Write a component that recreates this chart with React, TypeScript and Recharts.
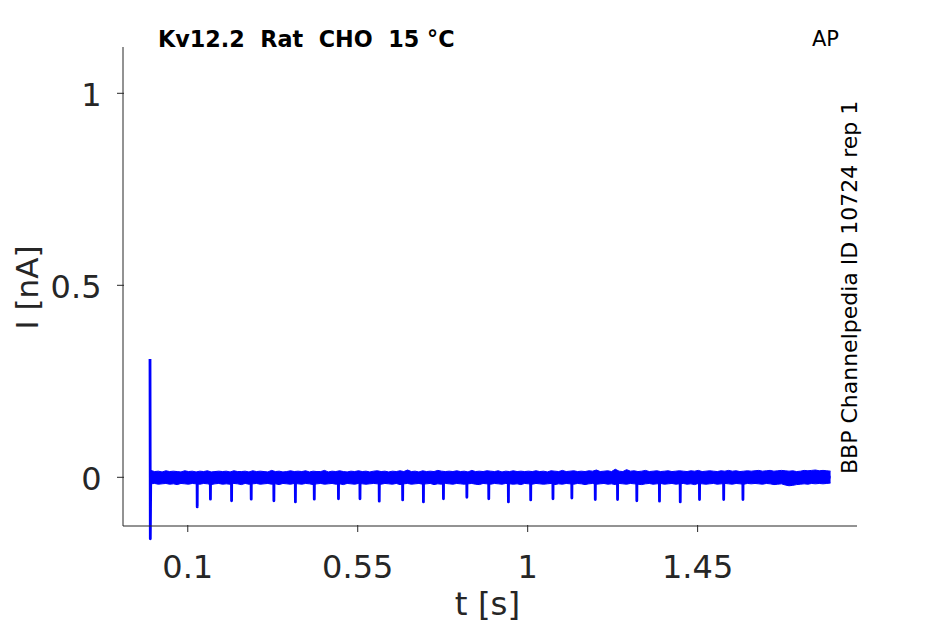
import React from 'react';
import { ComposedChart, Area, Line, XAxis, YAxis } from 'recharts';

// noise envelope of the baseline, every 10 ms from t = 0.002 s (pA)
const bandStart = 0.002;
const bandStep = 0.01;
const bandUpperPA = [
  18, 15, 16, 14, 17, 15, 16, 15, 14, 17, 15, 16, 14, 16, 15, 17, 14, 15, 16, 15,
  16, 14, 17, 15, 15, 16, 14, 17, 15, 16, 15, 14, 18, 15, 16, 14, 15, 17, 15, 16,
  15, 17, 14, 16, 15, 15, 18, 14, 16, 15, 17, 15, 14, 16, 15, 17, 15, 16, 14, 16,
  17, 15, 16, 14, 16, 15, 17, 15, 19, 15, 16, 14, 17, 15, 16, 15, 18, 16, 15, 16,
  15, 17, 15, 16, 14, 18, 15, 16, 15, 17, 16, 15, 17, 14, 16, 15, 17, 15, 16, 15,
  16, 15, 17, 15, 16, 14, 17, 16, 15, 18, 15, 16, 17, 15, 16, 15, 17, 16, 19, 15,
  16, 17, 15, 21, 16, 15, 20, 16, 17, 15, 16, 18, 15, 16, 17, 15, 16, 17, 15, 16,
  17, 16, 15, 17, 16, 18, 15, 16, 17, 16, 15, 17, 16, 18, 16, 17, 15, 16, 17, 16,
  17, 18, 16, 17, 18, 16, 17, 18, 17, 16, 17, 15, 16, 18, 17, 18, 19, 17, 18, 17,
  16,
];
const bandLowerPA = [
  -17, -16, -18, -17, -16, -18, -17, -19, -16, -17, -18, -16, -17, -18, -16, -17, -19, -17, -16, -18,
  -17, -18, -16, -17, -19, -16, -18, -17, -16, -18, -17, -16, -18, -17, -19, -16, -17, -18, -16, -17,
  -18, -16, -17, -19, -17, -16, -18, -17, -16, -18, -17, -19, -16, -17, -18, -16, -17, -18, -17, -16,
  -17, -18, -16, -17, -18, -16, -19, -17, -16, -18, -17, -16, -18, -17, -16, -19, -17, -18, -16, -17,
  -18, -16, -17, -18, -17, -16, -18, -19, -16, -17, -18, -16, -17, -18, -16, -17, -18, -17, -19, -16,
  -17, -18, -16, -17, -18, -17, -16, -19, -17, -18, -16, -17, -18, -16, -17, -19, -17, -16, -18, -17,
  -16, -18, -17, -19, -16, -17, -18, -16, -17, -18, -19, -17, -16, -18, -17, -16, -18, -17, -16, -18,
  -17, -16, -18, -17, -19, -16, -17, -18, -17, -16, -18, -17, -16, -17, -18, -16, -17, -18, -16, -17,
  -16, -17, -18, -16, -17, -19, -18, -17, -20, -22, -21, -19, -18, -17, -18, -16, -17, -16, -17, -16,
  -15,
];

// capacitive transient at stimulus onset (nA)
const onsetTimes = [0, 0.0008];
const onsetCurrent = [0.308, -0.16];

// inward deflections during the AP train (nA); each lasts about 1 ms
const spikeTimes = [
  0.125, 0.16, 0.216, 0.268, 0.328, 0.385, 0.435, 0.499, 0.556, 0.607,
  0.669, 0.724, 0.777, 0.839, 0.897, 0.949, 1.008, 1.067, 1.117, 1.179,
  1.238, 1.289, 1.349, 1.404, 1.455, 1.519, 1.57,
];
const spikeCurrent = [
  -0.077, -0.057, -0.061, -0.057, -0.061, -0.064, -0.057, -0.056, -0.056, -0.062,
  -0.059, -0.064, -0.056, -0.052, -0.056, -0.064, -0.059, -0.056, -0.054, -0.058,
  -0.058, -0.061, -0.062, -0.064, -0.058, -0.058, -0.058,
];
const spikeHalfWidth = 0.0004;
const baselineCurrent = 0;

const xTicks = [0.1, 0.55, 1, 1.45];
const yTicks = [0, 0.5, 1];

type Row = { t: number; current: number; band?: [number, number] };

const traceData: Row[] = [
  ...onsetTimes.map((t, i) => ({ t, current: onsetCurrent[i] })),
  ...bandUpperPA.map((hi, i) => {
    const lo = bandLowerPA[i];
    return {
      t: bandStart + bandStep * i,
      current: (hi + lo) / 2000,
      band: [lo / 1000, hi / 1000] as [number, number],
    };
  }),
  ...spikeTimes.flatMap((t, i) => [
    { t: t - spikeHalfWidth, current: baselineCurrent },
    { t, current: spikeCurrent[i] },
    { t: t + spikeHalfWidth, current: baselineCurrent },
  ]),
].sort((a, b) => a.t - b.t);

const FONT = '"DejaVu Sans", sans-serif';
const INK = '#262626';
const BLUE = '#0000ff';

const fmt = (v: number) => String(v);

const XTick = (props: any) => {
  const { x, y, payload } = props;
  return (
    <g>
      <line x1={x} x2={x} y1={y} y2={y - 7} stroke={INK} strokeWidth={1} />
      <text x={x} y={y + 46} textAnchor="middle" fontSize={32} fontFamily={FONT} fill={INK}>
        {fmt(payload.value)}
      </text>
    </g>
  );
};

const YTick = (props: any) => {
  const { x, y, payload } = props;
  return (
    <g>
      <line x1={x} x2={x + 7} y1={y} y2={y} stroke={INK} strokeWidth={1} />
      <text x={x - 15.5} y={y + 12.4} textAnchor="end" fontSize={32} fontFamily={FONT} fill={INK}>
        {fmt(payload.value)}
      </text>
    </g>
  );
};

const App: React.FC = () => {
  return (
    <div style={{ position: 'relative', width: 945, height: 624, background: '#fff' }}>
      <style>{'body{margin:0}.recharts-line,.recharts-line *{clip-path:none !important}'}</style>
      <ComposedChart width={945} height={624} data={traceData} margin={{ top: 47, right: 88, bottom: 38, left: 23 }}>
        <XAxis
          dataKey="t"
          type="number"
          domain={[-0.0715, 1.872]}
          ticks={xTicks}
          allowDataOverflow
          height={60}
          tickLine={false}
          tickMargin={0}
          tick={<XTick />}
          axisLine={{ stroke: INK, strokeWidth: 1 }}
        />
        <YAxis
          type="number"
          domain={[-0.1268, 1.1206]}
          ticks={yTicks}
          allowDataOverflow
          width={100}
          tickLine={false}
          tickMargin={0}
          tick={<YTick />}
          axisLine={{ stroke: INK, strokeWidth: 1 }}
        />
        <Area
          type="linear"
          dataKey="band"
          stroke={BLUE}
          strokeWidth={1}
          fill={BLUE}
          fillOpacity={1}
          connectNulls
          dot={false}
          activeDot={false}
          isAnimationActive={false}
        />
        <Line
          type="linear"
          dataKey="current"
          stroke={BLUE}
          strokeWidth={2.8}
          strokeLinejoin="round"
          dot={false}
          activeDot={false}
          isAnimationActive={false}
        />
      </ComposedChart>
      <svg width={945} height={624} style={{ position: 'absolute', left: 0, top: 0, pointerEvents: 'none' }}>
        <text x={158} y={47} fontSize={22.3} fontWeight="bold" fontFamily={FONT} fill="#000" xmlSpace="preserve" style={{ whiteSpace: 'pre' }}>
          {'Kv12.2  Rat  CHO  15 °C'}
        </text>
        <text x={812} y={46} fontSize={21} fontFamily={FONT} fill="#000">AP</text>
        <text
          transform="translate(857 474) rotate(-90)"
          fontSize={22}
          fontFamily={FONT}
          fill="#000"
        >
          BBP Channelpedia ID 10724 rep 1
        </text>
        <text x={487.5} y={615} textAnchor="middle" fontSize={32.5} fontFamily={FONT} fill={INK}>t [s]</text>
        <text
          transform="translate(37.5 287.5) rotate(-90)"
          textAnchor="middle"
          fontSize={31}
          fontFamily={FONT}
          fill={INK}
          style={{ whiteSpace: 'pre' }}
        >
          I [nA]
        </text>
      </svg>
    </div>
  );
};

export default App;
